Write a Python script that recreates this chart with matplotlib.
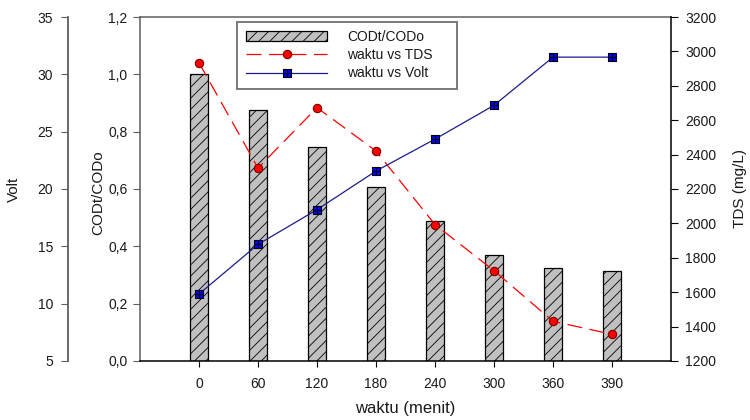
import numpy as np
import matplotlib.pyplot as plt
from matplotlib.path import Path
from matplotlib.ticker import FuncFormatter

plt.rcParams['font.family'] = ['Liberation Sans', 'DejaVu Sans']
plt.rcParams['hatch.linewidth'] = 0.6

# data
waktu = ["0", "60", "120", "180", "240", "300", "360", "390"]
cod_ratio = [1.0, 0.875, 0.747, 0.608, 0.489, 0.37, 0.323, 0.314]
tds = [2934, 2322, 2673, 2421, 1993, 1725, 1431, 1355]
volt = [10.84, 15.17, 18.2, 21.57, 24.35, 27.3, 31.5, 31.5]

tick_col = '#1a1a1a'
spine_gray = '#5e5e5e'

# square marker with a cross inside (SigmaPlot style)
sq_cross = Path(
    [(-1, -1), (1, -1), (1, 1), (-1, 1), (-1, -1), (0, -1), (0, 1), (-1, 0), (1, 0)],
    [Path.MOVETO, Path.LINETO, Path.LINETO, Path.LINETO, Path.CLOSEPOLY,
     Path.MOVETO, Path.LINETO, Path.MOVETO, Path.LINETO])

fig = plt.figure(figsize=(7.5, 4.2), dpi=100)
ax = fig.add_axes([0.1867, 0.1405, 0.708, 0.819])
x = np.arange(len(waktu))

# bars: CODt/CODo
bars = ax.bar(x, cod_ratio, width=0.32, color='#c0c0c0', edgecolor='black',
              linewidth=0.9, hatch='///', label='CODt/CODo')
ax.set_xlim(-1, 8)
ax.set_ylim(0, 1.2)
ax.set_yticks(np.arange(0, 1.21, 0.2))
ax.yaxis.set_major_formatter(FuncFormatter(lambda v, p: f"{v:.1f}".replace('.', ',')))
ax.set_xticks(x)
ax.set_xticklabels(waktu)
ax.tick_params(axis='y', direction='out', length=5, width=0.8, pad=4,
               labelsize=10, labelcolor=tick_col, color=spine_gray)
ax.tick_params(axis='x', direction='out', length=4.5, width=0.8, pad=7,
               labelsize=10, labelcolor=tick_col)
ax.spines['left'].set_color(spine_gray)
ax.spines['top'].set_color(spine_gray)
ax.spines['right'].set_visible(False)
for s in ['left', 'top', 'bottom']:
    ax.spines[s].set_linewidth(1.1)
ax.set_ylabel('CODt/CODo', fontsize=11, color=tick_col)
ax.yaxis.label.set_va('center')
ax.yaxis.set_label_coords(-0.079, 0.49)
ax.set_xlabel('waktu (menit)', fontsize=12, color=tick_col)
ax.xaxis.label.set_va('center')
ax.xaxis.set_label_coords(0.5, -0.137)

# TDS on right axis
ax2 = ax.twinx()
l_tds, = ax2.plot(x, tds, color='red', lw=0.9, dashes=(12, 6), marker='o',
                  ms=6, mfc='red', mec='#7a0000', mew=0.8, label='waktu vs TDS')
ax2.set_ylim(1200, 3200)
ax2.set_yticks(np.arange(1200, 3201, 200))
ax2.tick_params(axis='y', direction='out', length=5, width=0.8, pad=5,
                labelsize=10, labelcolor=tick_col)
for s in ['left', 'top', 'bottom']:
    ax2.spines[s].set_visible(False)
ax2.spines['right'].set_linewidth(1.1)
ax2.set_ylabel('TDS (mg/L)', fontsize=11, color=tick_col)
ax2.yaxis.label.set_va('center')
ax2.yaxis.set_label_coords(1.130, 0.5)

# Volt on outer left axis
ax3 = ax.twinx()
l_volt, = ax3.plot(x, volt, color='#1c1c8c', lw=0.9, marker=sq_cross, ms=6,
                   mfc='#0000ff', mec='black', mew=0.8, label='waktu vs Volt')
ax3.set_ylim(5, 35)
ax3.set_yticks(np.arange(5, 36, 5))
ax3.spines['left'].set_position(('outward', 51.6))
ax3.spines['left'].set_visible(True)
ax3.spines['left'].set_color(spine_gray)
ax3.spines['left'].set_linewidth(1.3)
for s in ['right', 'top', 'bottom']:
    ax3.spines[s].set_visible(False)
ax3.yaxis.set_ticks_position('left')
ax3.yaxis.set_label_position('left')
ax3.tick_params(axis='y', direction='out', length=5, width=0.8, pad=6,
                labelsize=10, labelcolor=tick_col, color=spine_gray)
ax3.set_ylabel('Volt', fontsize=11, color=tick_col)
ax3.yaxis.label.set_va('center')
ax3.yaxis.set_label_coords(-0.237, 0.5)

leg = ax3.legend([bars, l_tds, l_volt], ['CODt/CODo', 'waktu vs TDS', 'waktu vs Volt'],
                 loc='upper left', bbox_to_anchor=(0.183, 0.786, 0.414, 0.2),
                 mode='expand', borderaxespad=0,
                 fontsize=10, fancybox=False, framealpha=1, edgecolor='#707070',
                 handlelength=5.9, handletextpad=1.4, labelspacing=0.3,
                 borderpad=0.6)
leg.get_frame().set_linewidth(1.3)
for t in leg.get_texts():
    t.set_color(tick_col)

fig.savefig('out.png', dpi=100)
